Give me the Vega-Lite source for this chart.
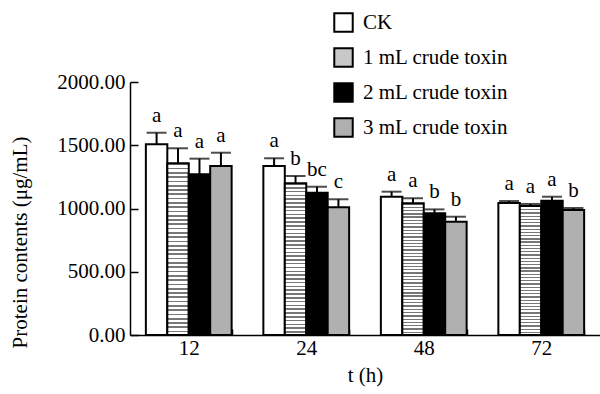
{
  "$schema": "https://vega.github.io/schema/vega-lite/v6.json",
  "width": 470,
  "height": 253,
  "autosize": {"type": "none"},
  "padding": {"left": 130, "top": 82, "right": 0, "bottom": 59},
  "background": "white",
  "config": {
    "font": "Liberation Serif, Times New Roman, DejaVu Serif, serif",
    "view": {"stroke": null},
    "text": {"font": "Liberation Serif, Times New Roman, DejaVu Serif, serif"},
    "axis": {"labelFont": "Liberation Serif, Times New Roman, DejaVu Serif, serif", "titleFont": "Liberation Serif, Times New Roman, DejaVu Serif, serif", "labelColor": "black", "titleColor": "black", "domainColor": "black", "tickColor": "black", "domainWidth": 1.5, "tickWidth": 1.5, "grid": false, "labelFontSize": 21, "titleFontSize": 21, "titleFontWeight": "normal"},
    "legend": {"labelFont": "Liberation Serif, Times New Roman, DejaVu Serif, serif", "labelFontSize": 21, "labelColor": "black"}
  },
  "data": {"values": [
    {"t": "12", "group": "CK", "mean": 1507, "upper": 1599, "letter": "a"},
    {"t": "12", "group": "1 mL crude toxin", "mean": 1357, "upper": 1476, "letter": "a"},
    {"t": "12", "group": "2 mL crude toxin", "mean": 1270, "upper": 1394, "letter": "a"},
    {"t": "12", "group": "3 mL crude toxin", "mean": 1336, "upper": 1441, "letter": "a"},
    {"t": "24", "group": "CK", "mean": 1336, "upper": 1397, "letter": "a"},
    {"t": "24", "group": "1 mL crude toxin", "mean": 1199, "upper": 1257, "letter": "b"},
    {"t": "24", "group": "2 mL crude toxin", "mean": 1125, "upper": 1172, "letter": "bc"},
    {"t": "24", "group": "3 mL crude toxin", "mean": 1009, "upper": 1073, "letter": "c"},
    {"t": "48", "group": "CK", "mean": 1093, "upper": 1133, "letter": "a"},
    {"t": "48", "group": "1 mL crude toxin", "mean": 1041, "upper": 1081, "letter": "a"},
    {"t": "48", "group": "2 mL crude toxin", "mean": 962, "upper": 993, "letter": "b"},
    {"t": "48", "group": "3 mL crude toxin", "mean": 896, "upper": 935, "letter": "b"},
    {"t": "72", "group": "CK", "mean": 1043, "upper": 1059, "letter": "a"},
    {"t": "72", "group": "1 mL crude toxin", "mean": 1020, "upper": 1036, "letter": "a"},
    {"t": "72", "group": "2 mL crude toxin", "mean": 1062, "upper": 1093, "letter": "a"},
    {"t": "72", "group": "3 mL crude toxin", "mean": 988, "upper": 1004, "letter": "b"}
  ]},
  "encoding": {
    "x": {"field": "t", "type": "ordinal", "sort": ["12", "24", "48", "72"],
      "scale": {"paddingInner": 0.27, "paddingOuter": 0.135},
      "axis": {"title": "t (h)", "labelAngle": 0, "tickBand": "extent", "tickSize": -6, "labelPadding": 8, "titlePadding": 6}},
    "xOffset": {"field": "group", "type": "nominal", "sort": ["CK", "1 mL crude toxin", "2 mL crude toxin", "3 mL crude toxin"], "scale": {"paddingInner": 0, "paddingOuter": 0}}
  },
  "layer": [
    {
      "mark": {"type": "bar", "stroke": "black", "strokeWidth": 2},
      "encoding": {
        "y": {"field": "mean", "type": "quantitative", "scale": {"domain": [0, 2000]},
          "axis": {"title": "Protein contents (μg/mL)", "values": [0, 500, 1000, 1500, 2000], "format": ".2f", "tickSize": -8, "labelPadding": 13, "titleX": -110, "titleY": 160, "titleBaseline": "middle"}},
        "fill": {
          "condition": {"test": "datum.group === '1 mL crude toxin'", "value": {"gradient": "linear", "x1": 0, "y1": 0, "x2": 0, "y2": 1, "stops": [
              {"offset": 0, "color": "#777"}, {"offset": 0.01, "color": "#777"}, {"offset": 0.01, "color": "#fff"}, {"offset": 0.025, "color": "#fff"},
              {"offset": 0.025, "color": "#777"}, {"offset": 0.035, "color": "#777"}, {"offset": 0.035, "color": "#fff"}, {"offset": 0.05, "color": "#fff"},
              {"offset": 0.05, "color": "#777"}, {"offset": 0.06, "color": "#777"}, {"offset": 0.06, "color": "#fff"}, {"offset": 0.075, "color": "#fff"},
              {"offset": 0.075, "color": "#777"}, {"offset": 0.085, "color": "#777"}, {"offset": 0.085, "color": "#fff"}, {"offset": 0.1, "color": "#fff"},
              {"offset": 0.1, "color": "#777"}, {"offset": 0.11, "color": "#777"}, {"offset": 0.11, "color": "#fff"}, {"offset": 0.125, "color": "#fff"},
              {"offset": 0.125, "color": "#777"}, {"offset": 0.135, "color": "#777"}, {"offset": 0.135, "color": "#fff"}, {"offset": 0.15, "color": "#fff"},
              {"offset": 0.15, "color": "#777"}, {"offset": 0.16, "color": "#777"}, {"offset": 0.16, "color": "#fff"}, {"offset": 0.175, "color": "#fff"},
              {"offset": 0.175, "color": "#777"}, {"offset": 0.185, "color": "#777"}, {"offset": 0.185, "color": "#fff"}, {"offset": 0.2, "color": "#fff"},
              {"offset": 0.2, "color": "#777"}, {"offset": 0.21, "color": "#777"}, {"offset": 0.21, "color": "#fff"}, {"offset": 0.225, "color": "#fff"},
              {"offset": 0.225, "color": "#777"}, {"offset": 0.235, "color": "#777"}, {"offset": 0.235, "color": "#fff"}, {"offset": 0.25, "color": "#fff"},
              {"offset": 0.25, "color": "#777"}, {"offset": 0.26, "color": "#777"}, {"offset": 0.26, "color": "#fff"}, {"offset": 0.275, "color": "#fff"},
              {"offset": 0.275, "color": "#777"}, {"offset": 0.285, "color": "#777"}, {"offset": 0.285, "color": "#fff"}, {"offset": 0.3, "color": "#fff"},
              {"offset": 0.3, "color": "#777"}, {"offset": 0.31, "color": "#777"}, {"offset": 0.31, "color": "#fff"}, {"offset": 0.325, "color": "#fff"},
              {"offset": 0.325, "color": "#777"}, {"offset": 0.335, "color": "#777"}, {"offset": 0.335, "color": "#fff"}, {"offset": 0.35, "color": "#fff"},
              {"offset": 0.35, "color": "#777"}, {"offset": 0.36, "color": "#777"}, {"offset": 0.36, "color": "#fff"}, {"offset": 0.375, "color": "#fff"},
              {"offset": 0.375, "color": "#777"}, {"offset": 0.385, "color": "#777"}, {"offset": 0.385, "color": "#fff"}, {"offset": 0.4, "color": "#fff"},
              {"offset": 0.4, "color": "#777"}, {"offset": 0.41, "color": "#777"}, {"offset": 0.41, "color": "#fff"}, {"offset": 0.425, "color": "#fff"},
              {"offset": 0.425, "color": "#777"}, {"offset": 0.435, "color": "#777"}, {"offset": 0.435, "color": "#fff"}, {"offset": 0.45, "color": "#fff"},
              {"offset": 0.45, "color": "#777"}, {"offset": 0.46, "color": "#777"}, {"offset": 0.46, "color": "#fff"}, {"offset": 0.475, "color": "#fff"},
              {"offset": 0.475, "color": "#777"}, {"offset": 0.485, "color": "#777"}, {"offset": 0.485, "color": "#fff"}, {"offset": 0.5, "color": "#fff"},
              {"offset": 0.5, "color": "#777"}, {"offset": 0.51, "color": "#777"}, {"offset": 0.51, "color": "#fff"}, {"offset": 0.525, "color": "#fff"},
              {"offset": 0.525, "color": "#777"}, {"offset": 0.535, "color": "#777"}, {"offset": 0.535, "color": "#fff"}, {"offset": 0.55, "color": "#fff"},
              {"offset": 0.55, "color": "#777"}, {"offset": 0.56, "color": "#777"}, {"offset": 0.56, "color": "#fff"}, {"offset": 0.575, "color": "#fff"},
              {"offset": 0.575, "color": "#777"}, {"offset": 0.585, "color": "#777"}, {"offset": 0.585, "color": "#fff"}, {"offset": 0.6, "color": "#fff"},
              {"offset": 0.6, "color": "#777"}, {"offset": 0.61, "color": "#777"}, {"offset": 0.61, "color": "#fff"}, {"offset": 0.625, "color": "#fff"},
              {"offset": 0.625, "color": "#777"}, {"offset": 0.635, "color": "#777"}, {"offset": 0.635, "color": "#fff"}, {"offset": 0.65, "color": "#fff"},
              {"offset": 0.65, "color": "#777"}, {"offset": 0.66, "color": "#777"}, {"offset": 0.66, "color": "#fff"}, {"offset": 0.675, "color": "#fff"},
              {"offset": 0.675, "color": "#777"}, {"offset": 0.685, "color": "#777"}, {"offset": 0.685, "color": "#fff"}, {"offset": 0.7, "color": "#fff"},
              {"offset": 0.7, "color": "#777"}, {"offset": 0.71, "color": "#777"}, {"offset": 0.71, "color": "#fff"}, {"offset": 0.725, "color": "#fff"},
              {"offset": 0.725, "color": "#777"}, {"offset": 0.735, "color": "#777"}, {"offset": 0.735, "color": "#fff"}, {"offset": 0.75, "color": "#fff"},
              {"offset": 0.75, "color": "#777"}, {"offset": 0.76, "color": "#777"}, {"offset": 0.76, "color": "#fff"}, {"offset": 0.775, "color": "#fff"},
              {"offset": 0.775, "color": "#777"}, {"offset": 0.785, "color": "#777"}, {"offset": 0.785, "color": "#fff"}, {"offset": 0.8, "color": "#fff"},
              {"offset": 0.8, "color": "#777"}, {"offset": 0.81, "color": "#777"}, {"offset": 0.81, "color": "#fff"}, {"offset": 0.825, "color": "#fff"},
              {"offset": 0.825, "color": "#777"}, {"offset": 0.835, "color": "#777"}, {"offset": 0.835, "color": "#fff"}, {"offset": 0.85, "color": "#fff"},
              {"offset": 0.85, "color": "#777"}, {"offset": 0.86, "color": "#777"}, {"offset": 0.86, "color": "#fff"}, {"offset": 0.875, "color": "#fff"},
              {"offset": 0.875, "color": "#777"}, {"offset": 0.885, "color": "#777"}, {"offset": 0.885, "color": "#fff"}, {"offset": 0.9, "color": "#fff"},
              {"offset": 0.9, "color": "#777"}, {"offset": 0.91, "color": "#777"}, {"offset": 0.91, "color": "#fff"}, {"offset": 0.925, "color": "#fff"},
              {"offset": 0.925, "color": "#777"}, {"offset": 0.935, "color": "#777"}, {"offset": 0.935, "color": "#fff"}, {"offset": 0.95, "color": "#fff"},
              {"offset": 0.95, "color": "#777"}, {"offset": 0.96, "color": "#777"}, {"offset": 0.96, "color": "#fff"}, {"offset": 0.975, "color": "#fff"},
              {"offset": 0.975, "color": "#777"}, {"offset": 0.985, "color": "#777"}, {"offset": 0.985, "color": "#fff"}, {"offset": 1, "color": "#fff"}
            ]}},
          "field": "group", "type": "nominal", "sort": ["CK", "1 mL crude toxin", "2 mL crude toxin", "3 mL crude toxin"],
          "scale": {"domain": ["CK", "1 mL crude toxin", "2 mL crude toxin", "3 mL crude toxin"], "range": ["#ffffff", "#c8c8c8", "#000000", "#b0b0b0"]},
          "legend": {"title": null, "orient": "none", "legendX": 203, "legendY": -70, "symbolType": "square", "symbolSize": 340, "symbolStrokeColor": "black", "symbolStrokeWidth": 2, "symbolOpacity": 1, "rowPadding": 8, "labelOffset": 9}}
      }
    },
    {
      "mark": {"type": "rule", "color": "black", "strokeWidth": 2},
      "encoding": {"y": {"field": "mean", "type": "quantitative"}, "y2": {"field": "upper"}}
    },
    {
      "mark": {"type": "tick", "color": "black", "thickness": 2, "size": 20, "orient": "horizontal"},
      "encoding": {"y": {"field": "upper", "type": "quantitative"}}
    },
    {
      "mark": {"type": "text", "fontSize": 21, "color": "black", "baseline": "alphabetic", "dy": -11, "font": "Liberation Serif, Times New Roman, DejaVu Serif, serif"},
      "encoding": {"y": {"field": "upper", "type": "quantitative"}, "text": {"field": "letter"}}
    }
  ]
}
